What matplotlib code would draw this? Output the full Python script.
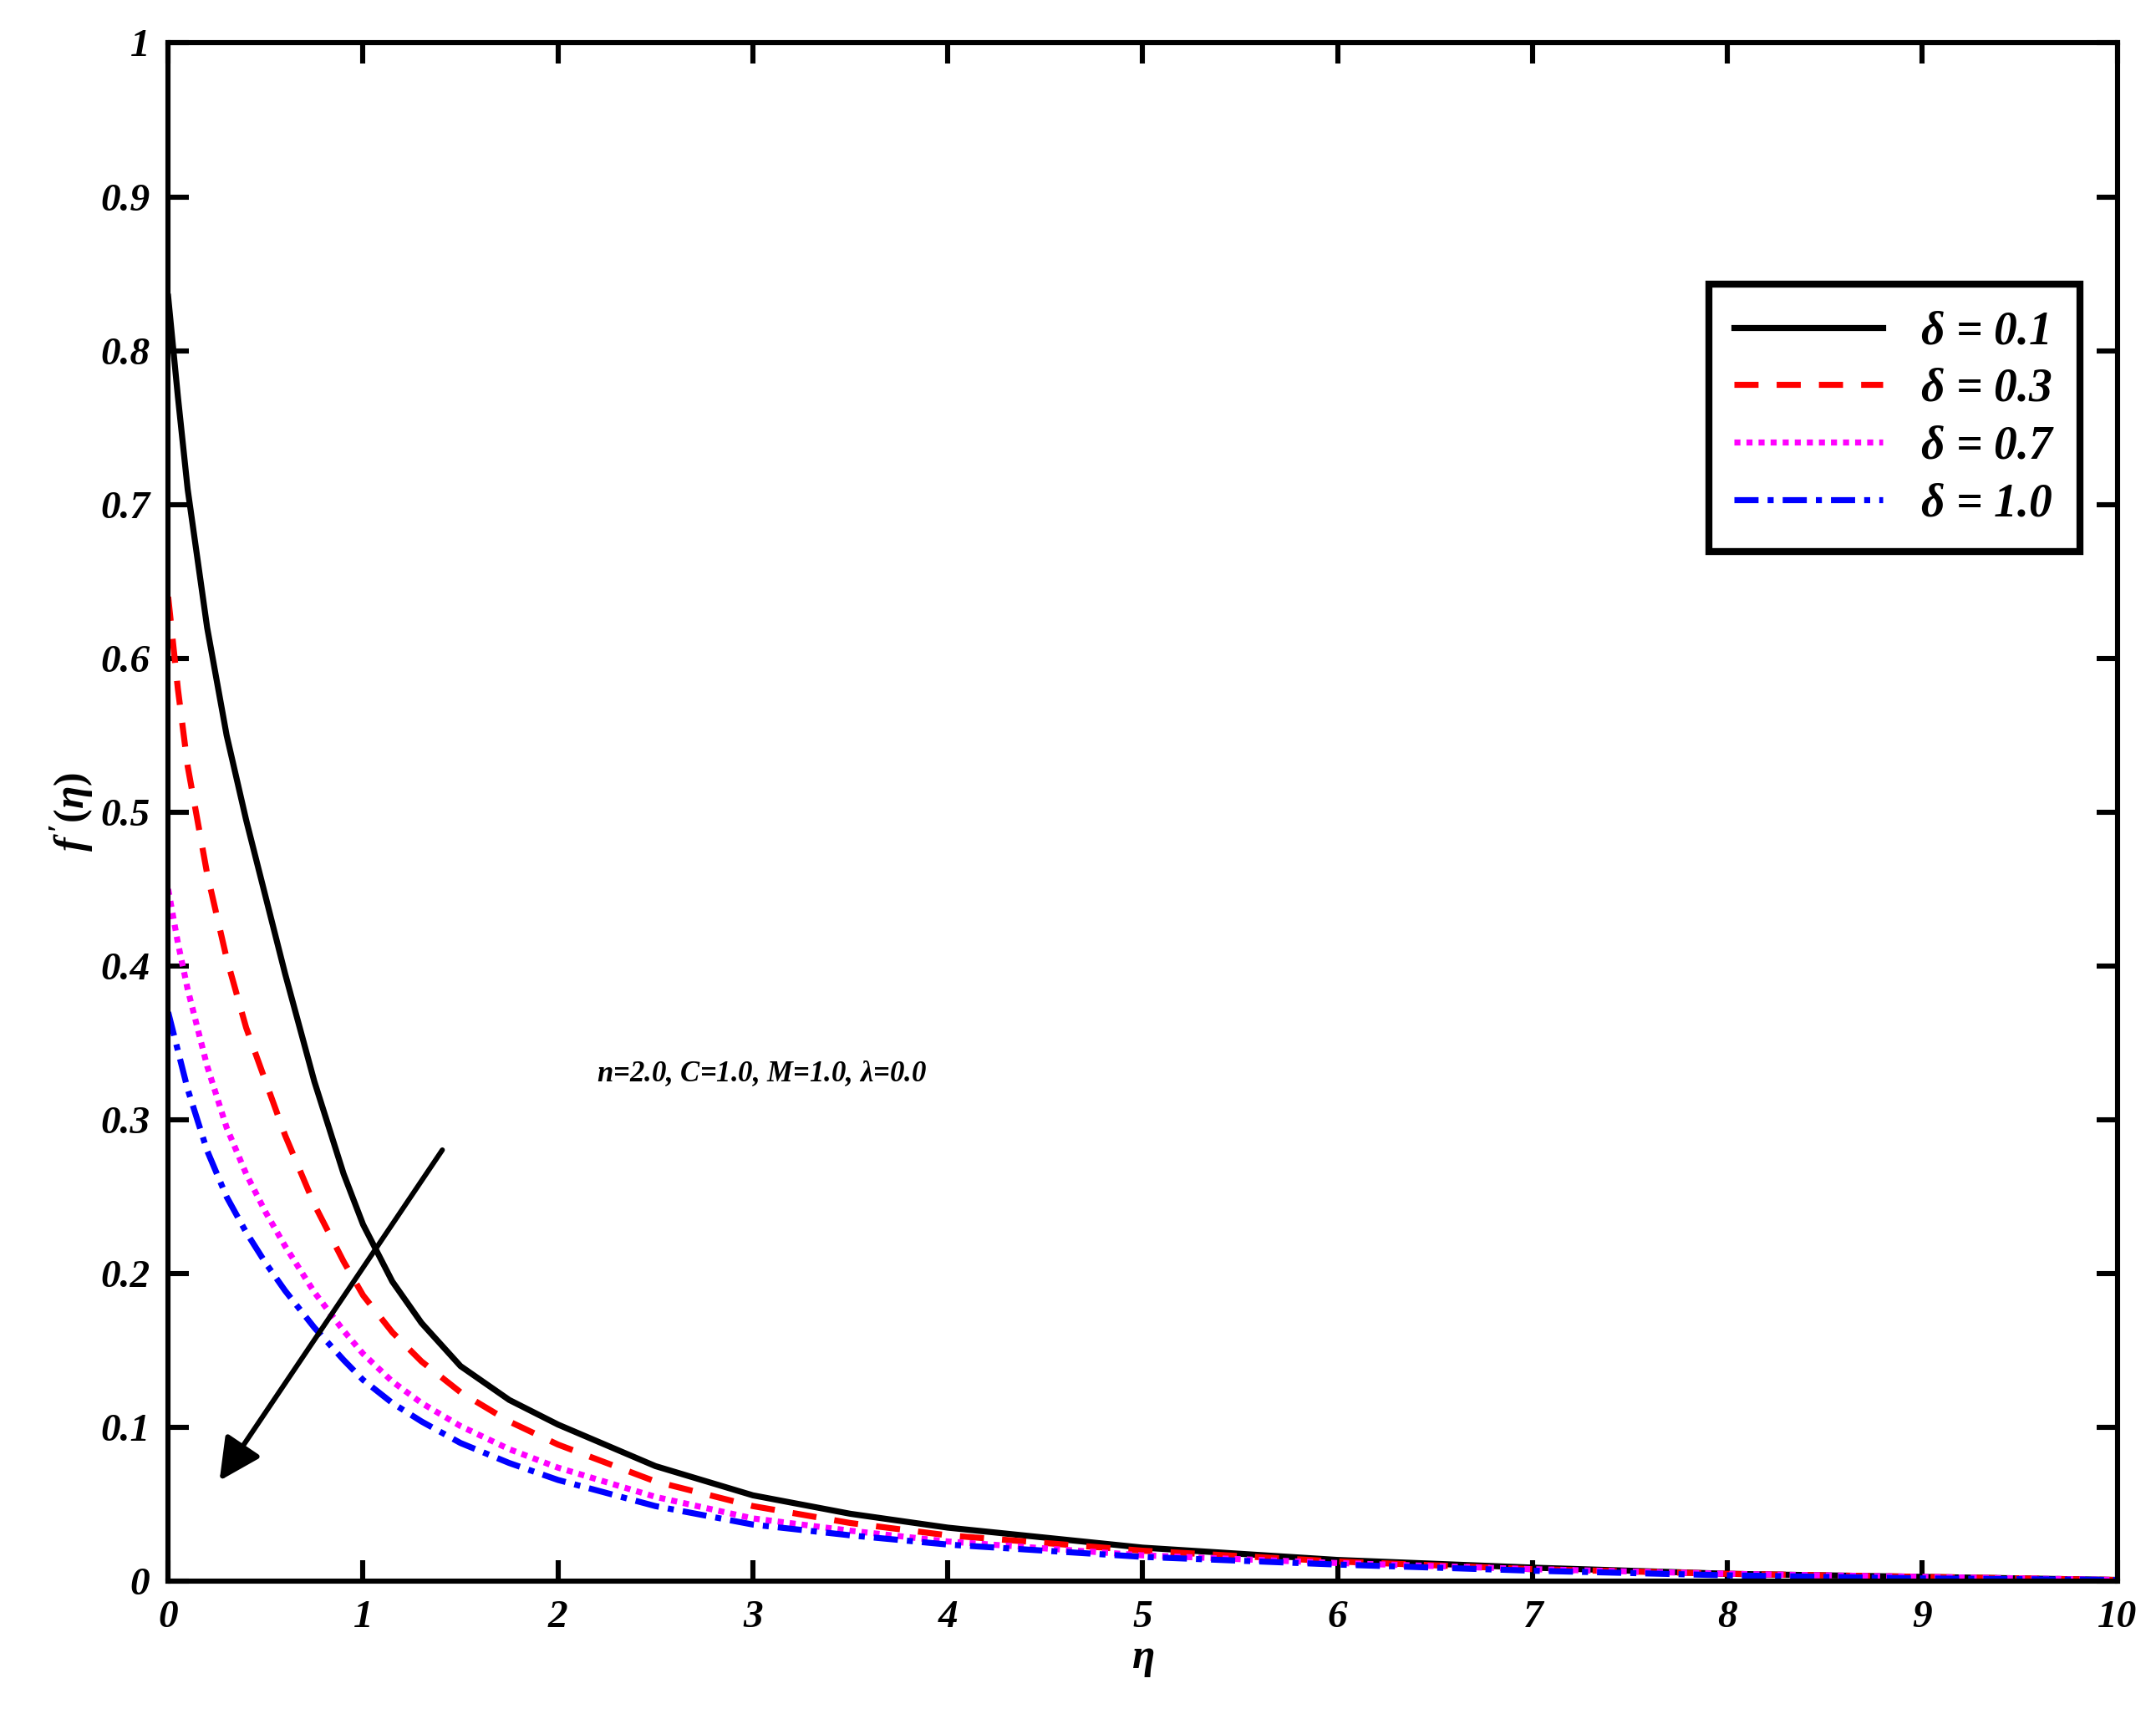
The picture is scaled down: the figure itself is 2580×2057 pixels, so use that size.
import matplotlib
matplotlib.use("Agg")
import matplotlib.pyplot as plt

plt.rcParams["font.family"] = ["Liberation Serif", "DejaVu Serif"]
plt.rcParams["mathtext.fontset"] = "custom"
plt.rcParams["mathtext.it"] = "Liberation Serif:italic:bold"
plt.rcParams["mathtext.rm"] = "Liberation Serif:bold"

# values
eta = [0, 0.05, 0.1, 0.2, 0.3, 0.4, 0.5, 0.6, 0.75, 0.9, 1, 1.15, 1.3, 1.5, 1.75, 2, 2.5, 3, 3.5, 4, 5, 6, 7, 8, 9, 10]
d01 = [0.835, 0.77, 0.71, 0.62, 0.55, 0.495, 0.445, 0.395, 0.325, 0.265, 0.232, 0.195, 0.168, 0.140, 0.118, 0.102, 0.075, 0.056, 0.044, 0.035, 0.022, 0.014, 0.009, 0.005, 0.003, 0.001]
d03 = [0.64, 0.58, 0.53, 0.46, 0.405, 0.36, 0.325, 0.29, 0.245, 0.208, 0.186, 0.162, 0.143, 0.123, 0.104, 0.089, 0.065, 0.049, 0.038, 0.030, 0.020, 0.013, 0.008, 0.005, 0.003, 0.001]
d07 = [0.45, 0.415, 0.385, 0.335, 0.295, 0.265, 0.240, 0.218, 0.188, 0.163, 0.148, 0.130, 0.116, 0.101, 0.086, 0.074, 0.055, 0.041, 0.033, 0.026, 0.017, 0.012, 0.008, 0.005, 0.003, 0.001]
d10 = [0.37, 0.345, 0.32, 0.28, 0.25, 0.227, 0.207, 0.189, 0.165, 0.144, 0.131, 0.116, 0.104, 0.090, 0.077, 0.066, 0.049, 0.037, 0.030, 0.024, 0.016, 0.011, 0.007, 0.004, 0.002, 0.001]

series = [(d01, "k", "-", r"$\delta$ = 0.1"),
          (d03, "red", (0, (4, 3)), r"$\delta$ = 0.3"),
          (d07, "magenta", (0, (1, 1)), r"$\delta$ = 0.7"),
          (d10, "blue", (0, (4, 1.5, 1, 1.5)), r"$\delta$ = 1.0")]

fig = plt.figure(figsize=(12.9, 10.285), dpi=200)
ax = fig.add_axes([0.078, 0.080, 0.904, 0.895])

for ys, c, ls, lab in series:
    ax.plot(eta, ys, color=c, linestyle=ls, linewidth=2.6, label=lab)

ax.set_xlim(0, 10)
ax.set_ylim(0, 1)
ax.set_xticks(range(0, 11))
ax.set_yticks([i / 10 for i in range(11)])
ax.set_yticklabels(["0", "0.1", "0.2", "0.3", "0.4", "0.5", "0.6", "0.7", "0.8", "0.9", "1"])
ax.tick_params(direction="in", length=9, width=2.2, labelsize=17, top=True, right=True, pad=8)
for lbl in ax.get_xticklabels() + ax.get_yticklabels():
    lbl.set_fontweight("bold")
    lbl.set_fontstyle("italic")
for s in ax.spines.values():
    s.set_linewidth(2.2)

ax.set_xlabel(r"$\eta$", fontsize=18, labelpad=2)
ax.set_ylabel(r"$f\,'(\eta)$", fontsize=18, labelpad=2)

ax.text(2.2, 0.325, r"$n$=2.0, $C$=1.0, $M$=1.0, $\lambda$=0.0",
        fontsize=12.5, fontweight="bold", fontstyle="italic")
ax.annotate("", xy=(0.25, 0.063), xytext=(1.42, 0.283),
            arrowprops=dict(arrowstyle="-|>", color="k", lw=2.2, mutation_scale=38))

leg = ax.legend(loc="upper right", bbox_to_anchor=(0.981, 0.843),
                frameon=True, fancybox=False, handlelength=3.2, borderpad=0.55,
                labelspacing=0.3, borderaxespad=0, framealpha=1,
                prop={"weight": "bold", "style": "italic", "size": 20})
leg.get_frame().set_edgecolor("k")
leg.get_frame().set_linewidth(3)

fig.savefig("out.png", dpi=200)
